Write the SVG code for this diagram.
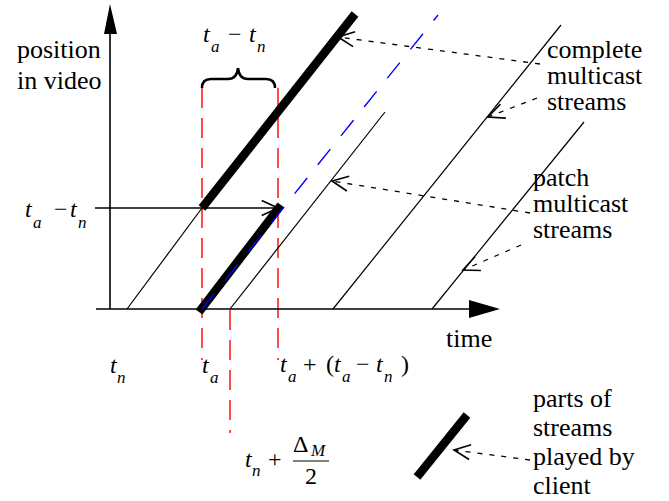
<svg xmlns="http://www.w3.org/2000/svg" width="669" height="501" viewBox="0 0 669 501">
  <style>
    .lbl { font-family: 'Liberation Serif', 'Times New Roman', serif; font-size: 26px; fill: #000; }
    .mi { font-family: 'Liberation Serif', 'Times New Roman', serif; font-size: 24px; font-style: italic; fill: #000; }
    .ms { font-family: 'Liberation Serif', 'Times New Roman', serif; font-size: 17px; font-style: italic; fill: #000; }
    .mu { font-family: 'Liberation Serif', 'Times New Roman', serif; font-size: 24px; fill: #000; }
    .axis { stroke: #000; stroke-width: 1.6; fill: none; }
    .thin { stroke: #000; stroke-width: 1.2; fill: none; }
    .thick { stroke: #000; stroke-width: 8.5; fill: none; stroke-linecap: butt; }
    .red { stroke: #ff0000; stroke-width: 1.4; stroke-dasharray: 20 10; fill: none; }
    .blue { stroke: #0000ff; stroke-width: 1.4; stroke-dasharray: 20 17; fill: none; }
    .dot { stroke: #000; stroke-width: 1.3; stroke-dasharray: 5 7; fill: none; }
  </style>
  <defs>
    <marker id="open" markerUnits="userSpaceOnUse" markerWidth="20" markerHeight="20" refX="0" refY="0" viewBox="-14 -8 16 16" orient="auto" overflow="visible">
      <path d="M-13,-6 L0,0 L-13,6" fill="none" stroke="#000" stroke-width="1.3" stroke-dasharray="none"/>
    </marker>
  </defs>

  <g id="guides">
    <line class="red" x1="202" y1="88" x2="202" y2="360"/>
    <line class="red" x1="278" y1="88" x2="278" y2="360"/>
    <line class="red" x1="230" y1="310" x2="230" y2="433"/>
  </g>

  <g id="axes">
    <line class="axis" x1="110" y1="309" x2="110" y2="30"/>
    <polygon points="110,4 104,34 117,34" fill="#000"/>
    <line class="axis" x1="96" y1="309" x2="472" y2="309"/>
    <polygon points="500,309 469,300 469,318" fill="#000"/>
  </g>

  <g id="streams">
    <line class="thin" x1="127" y1="309" x2="202" y2="208"/>
    <line class="thin" x1="230" y1="309" x2="385" y2="112"/>
    <line class="thin" x1="333" y1="309" x2="561" y2="25"/>
    <line class="thin" x1="432" y1="309" x2="584" y2="122"/>
    <line class="thick" x1="202" y1="208" x2="355" y2="14"/>
    <line class="thick" x1="199" y1="312" x2="281" y2="205"/>
    <line class="blue" x1="202" y1="309" x2="438" y2="15"/>
    <line class="thick" x1="467" y1="415" x2="417" y2="477"/>
  </g>

  <g id="connectors">
    <line class="axis" x1="95" y1="208" x2="278" y2="208" marker-end="url(#open)"/>
    <line class="dot" x1="540" y1="64" x2="338" y2="37" marker-end="url(#open)"/>
    <line class="dot" x1="537" y1="98" x2="488" y2="117" marker-end="url(#open)"/>
    <line class="dot" x1="530" y1="213" x2="332" y2="181" marker-end="url(#open)"/>
    <line class="dot" x1="521" y1="245" x2="463" y2="270" marker-end="url(#open)"/>
    <line class="dot" x1="530" y1="460" x2="454" y2="450" marker-end="url(#open)"/>
  </g>

  <g id="brace">
    <path d="M202,88 Q202,79 211,79 L228,79 Q237,79 238,68 Q239,79 248,79 L266,79 Q275,79 275,88" fill="none" stroke="#000" stroke-width="2.6"/>
  </g>

  <g id="label-position">
    <text class="lbl" x="17" y="58">position<tspan x="17" dy="31">in video</tspan></text>
  </g>
  <g id="label-complete">
    <text class="lbl" x="547" y="58">complete<tspan x="547" dy="26">multicast</tspan><tspan x="547" dy="26">streams</tspan></text>
  </g>
  <g id="label-patch">
    <text class="lbl" x="533" y="186">patch<tspan x="533" dy="26">multicast</tspan><tspan x="533" dy="26">streams</tspan></text>
  </g>
  <g id="label-time">
    <text class="lbl" x="446" y="347">time</text>
  </g>
  <g id="label-parts">
    <text class="lbl" x="533" y="407">parts of<tspan x="533" dy="29">streams</tspan><tspan x="533" dy="29">played by</tspan><tspan x="533" dy="29">client</tspan></text>
  </g>

  <g id="math-top">
    <text class="mi" x="203" y="42">t</text>
    <text class="ms" x="211" y="52">a</text>
    <text class="mu" x="228" y="42">−</text>
    <text class="mi" x="249" y="42">t</text>
    <text class="ms" x="257" y="52">n</text>
  </g>
  <g id="math-left">
    <text class="mi" x="25" y="217">t</text>
    <text class="ms" x="33" y="228">a</text>
    <text class="mu" x="54" y="217">−</text>
    <text class="mi" x="70" y="217">t</text>
    <text class="ms" x="78" y="228">n</text>
  </g>
  <g id="math-tn">
    <text class="mi" x="110" y="373">t</text>
    <text class="ms" x="117" y="383">n</text>
  </g>
  <g id="math-ta">
    <text class="mi" x="202" y="373">t</text>
    <text class="ms" x="210" y="383">a</text>
  </g>
  <g id="math-ta2">
    <text class="mi" x="280" y="372">t</text>
    <text class="ms" x="288" y="382">a</text>
    <text class="mu" x="303" y="372">+</text>
    <text class="mu" x="326" y="372">(</text>
    <text class="mi" x="334" y="372">t</text>
    <text class="ms" x="342" y="382">a</text>
    <text class="mu" x="356" y="372">−</text>
    <text class="mi" x="376" y="372">t</text>
    <text class="ms" x="384" y="382">n</text>
    <text class="mu" x="401" y="372">)</text>
  </g>
  <g id="math-delta">
    <text class="mi" x="245" y="467">t</text>
    <text class="ms" x="252" y="476">n</text>
    <text class="mu" x="268" y="467">+</text>
    <text class="mu" x="293" y="452">Δ</text>
    <text class="ms" x="311" y="456">M</text>
    <line x1="293" y1="461" x2="329" y2="461" stroke="#000" stroke-width="1.2"/>
    <text class="mu" x="305" y="484">2</text>
  </g>
</svg>
